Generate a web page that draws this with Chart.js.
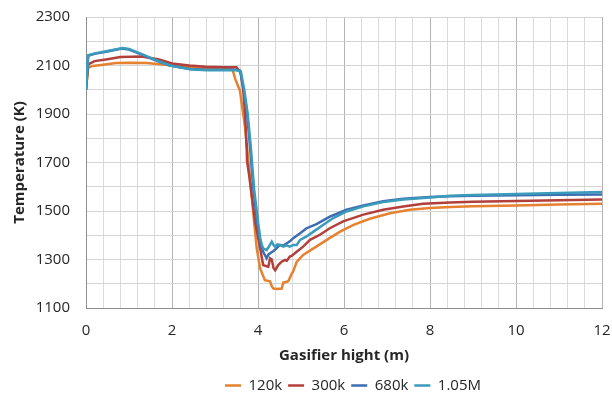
<!DOCTYPE html>
<html>
<head>
<meta charset="utf-8">
<script src="https://cdn.jsdelivr.net/npm/chart.js@4/dist/chart.umd.min.js"></script>
<style>
  html, body { margin: 0; padding: 0; background: #fff; }
  #wrap { width: 612px; height: 398px; }
</style>
</head>
<body>
<div id="wrap"><canvas id="chart"></canvas></div>
<script>
// series labels
const seriesNames = ['120k', '300k', '680k', '1.05M'];

// gasifier height (m) / temperature (K)
const h120 = [0, 0.05, 0.15, 0.4, 0.7, 1.0, 1.4, 1.8, 2.2, 2.6, 3.0, 3.4, 3.47, 3.58, 3.70, 3.85, 3.97, 4.05, 4.16, 4.28, 4.32, 4.36, 4.45, 4.55, 4.59, 4.67, 4.71, 4.78, 4.82, 4.9, 5.05, 5.29, 5.6, 5.91, 6.22, 6.6, 7.07, 7.53, 8.0, 8.47, 9.0, 10.0, 11.0, 12];
const t120 = [2000, 2090, 2098, 2103, 2110, 2111, 2110, 2104, 2096, 2092, 2090, 2088, 2045, 1996, 1844, 1569, 1346, 1263, 1215, 1210, 1190, 1180, 1178, 1180, 1205, 1208, 1212, 1240, 1252, 1290, 1319, 1346, 1381, 1415, 1443, 1468, 1491, 1505, 1512, 1517, 1520, 1523, 1527, 1530];

const h300 = [0, 0.05, 0.2, 0.5, 0.8, 1.3, 1.7, 2.0, 2.4, 2.8, 3.2, 3.5, 3.6, 3.66, 3.70, 3.73, 3.74, 3.745, 3.8, 3.93, 4.05, 4.12, 4.2, 4.24, 4.28, 4.32, 4.36, 4.40, 4.47, 4.51, 4.55, 4.63, 4.67, 4.74, 4.78, 4.9, 5.05, 5.21, 5.44, 5.67, 5.98, 6.45, 6.91, 7.38, 7.84, 8.47, 9, 10, 11, 12];
const t300 = [2000, 2105, 2118, 2126, 2135, 2137, 2125, 2108, 2100, 2095, 2093, 2093, 2070, 1990, 1900, 1780, 1745, 1706, 1640, 1457, 1346, 1277, 1272, 1270, 1305, 1300, 1265, 1256, 1277, 1284, 1291, 1298, 1295, 1312, 1315, 1332, 1353, 1381, 1402, 1429, 1457, 1485, 1505, 1519, 1530, 1535, 1538, 1541, 1544, 1547];

const h680 = [0, 0.05, 0.2, 0.5, 0.83, 1.0, 1.3, 1.6, 1.95, 2.42, 2.8, 3.2, 3.5, 3.58, 3.66, 3.74, 3.81, 3.89, 3.97, 4.05, 4.12, 4.2, 4.24, 4.28, 4.36, 4.43, 4.51, 4.59, 4.67, 4.74, 4.82, 4.98, 5.13, 5.36, 5.67, 6.06, 6.45, 6.91, 7.38, 8.0, 8.47, 9, 10, 11, 12];
const t680 = [2000, 2140, 2148, 2158, 2170, 2166, 2145, 2122, 2100, 2086, 2082, 2082, 2082, 2079, 2010, 1913, 1775, 1595, 1470, 1374, 1332, 1305, 1320, 1326, 1335, 1346, 1360, 1358, 1367, 1375, 1388, 1408, 1429, 1446, 1477, 1505, 1523, 1540, 1551, 1558, 1561, 1563, 1565, 1567, 1568];

const h105 = [0, 0.05, 0.2, 0.5, 0.85, 1.0, 1.3, 1.6, 1.95, 2.42, 2.8, 3.2, 3.5, 3.6, 3.68, 3.76, 3.83, 3.91, 4.01, 4.05, 4.09, 4.12, 4.2, 4.26, 4.32, 4.36, 4.40, 4.45, 4.51, 4.59, 4.66, 4.74, 4.82, 4.9, 4.98, 5.13, 5.29, 5.52, 5.75, 6.06, 6.45, 6.91, 7.38, 8.0, 8.47, 9, 10, 11, 12];
const t105 = [2000, 2142, 2150, 2160, 2172, 2168, 2147, 2124, 2100, 2085, 2080, 2080, 2080, 2075, 2000, 1900, 1770, 1590, 1443, 1390, 1360, 1346, 1339, 1355, 1374, 1360, 1353, 1362, 1360, 1353, 1358, 1353, 1360, 1360, 1381, 1395, 1415, 1443, 1471, 1498, 1519, 1537, 1547, 1556, 1563, 1566, 1570, 1574, 1578];

const heights = [h120, h300, h680, h105];
const temps = [t120, t300, t680, t105];

function getColor(name) {
    if (name === '120k') return '#E5812F';
    if (name === '300k') return '#B33F3B';
    if (name === '680k') return '#3D6CB0';
    if (name === '1.05M') return '#3A9BBB';
}

const fontFam = "'Open Sans', 'Liberation Sans', sans-serif";
const near = (v, step) => Math.abs(v / step - Math.round(v / step)) < 1e-6;

// nudge the legend a bit to the right, like in the original
const legendShift = {
    id: 'legendShift',
    afterLayout(chart) {
        chart.legend.left += 9;
        chart.legend.right += 9;
    }
};

new Chart(document.querySelector('#chart').getContext('2d'), {
    type: 'line',
    data: {
        datasets: seriesNames.map((name, i) => ({
            label: name,
            data: heights[i].map((h, j) => ({ x: h, y: temps[i][j] })),
            borderColor: getColor(name),
            backgroundColor: getColor(name),
            borderWidth: 2.5,
            pointRadius: 0,
            tension: 0,
            order: 4 - i
        }))
    },
    plugins: [legendShift],
    options: {
        responsive: true,
        maintainAspectRatio: false,
        animation: false,
        layout: { padding: { top: 17, right: 10, left: 8, bottom: -5 } },
        plugins: {
            tooltip: { enabled: false },
            legend: {
                position: 'bottom',
                fullSize: false,
                labels: {
                    sort: (a, b) => a.datasetIndex - b.datasetIndex,
                    usePointStyle: true,
                    pointStyle: 'line',
                    pointStyleWidth: 16,
                    color: '#262626',
                    padding: 6,
                    font: { family: fontFam, size: 15 }
                }
            }
        },
        scales: {
            x: {
                type: 'linear',
                min: 0,
                max: 12,
                afterFit: s => { s.paddingLeft = 0; s.paddingRight = 0; s.height = 64; },
                grid: {
                    drawTicks: false,
                    color: ctx => near(ctx.tick.value, 2) ? '#b4b4b4' : '#dadada'
                },
                border: { color: '#8f8f8f' },
                ticks: {
                    stepSize: 0.4,
                    autoSkip: false,
                    maxRotation: 0,
                    padding: 14,
                    color: '#262626',
                    font: { family: fontFam, size: 15 },
                    callback: v => near(v, 2) ? String(Math.round(v)) : ''
                },
                title: {
                    display: true,
                    text: 'Gasifier hight (m)',
                    color: '#262626',
                    font: { family: fontFam, size: 15, weight: 'bold' },
                    padding: { top: 0, bottom: 7 }
                }
            },
            y: {
                min: 1100,
                max: 2300,
                afterFit: s => { s.paddingTop = 0; s.paddingBottom = 0; s.width = 78; },
                grid: {
                    drawTicks: false,
                    color: '#d4d4d4'
                },
                border: { color: '#8f8f8f' },
                ticks: {
                    stepSize: 100,
                    autoSkip: false,
                    padding: 16,
                    color: '#262626',
                    font: { family: fontFam, size: 15 },
                    callback: v => near(v - 1100, 200) ? String(v) : ''
                },
                title: {
                    display: true,
                    text: 'Temperature (K)',
                    color: '#262626',
                    font: { family: fontFam, size: 15, weight: 'bold' },
                    padding: { top: 3, bottom: 4 }
                }
            }
        }
    }
});
</script>
</body>
</html>
